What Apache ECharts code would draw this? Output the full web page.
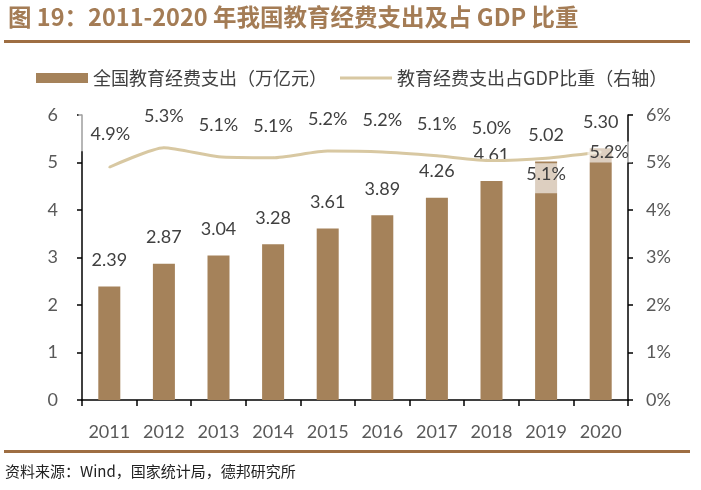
<!DOCTYPE html>
<html><head><meta charset="utf-8">
<script src="https://cdn.jsdelivr.net/npm/echarts@6/dist/echarts.min.js"></script>
<style>html,body{margin:0;padding:0;background:#fff}#c{width:701px;height:490px}</style>
</head><body><div id="c"></div>
<script>
const years = ['2011','2012','2013','2014','2015','2016','2017','2018','2019','2020'];
const spending = [2.39, 2.87, 3.04, 3.28, 3.61, 3.89, 4.26, 4.61, 5.02, 5.30];
const gdpShare = [4.90, 5.31, 5.12, 5.10, 5.24, 5.22, 5.14, 5.04, 5.09, 5.22];
const leftTicks = ['0', '1', '2', '3', '4', '5', '6'];
const rightTicks = ['0%', '1%', '2%', '3%', '4%', '5%', '6%'];

const FONT = 'Lato, "Noto Sans CJK SC", sans-serif';
const CJK = '"Noto Sans CJK SC", sans-serif';
const chart = echarts.init(document.getElementById('c'), null, {renderer: 'canvas'});

const fade = 'rgba(255,255,255,0.62)';
const lineData = gdpShare.map((v, i) => {
  const d = {value: v};
  if (i === 0) d.label = {distance: 15, offset: [-4, 0], backgroundColor: fade, padding: [13, 2, 8, 12]};
  if (i === 8) d.label = {position: 'bottom', distance: 4, backgroundColor: fade, padding: [2, 3, 10, 3]};
  if (i === 9) d.label = {position: 'inside', offset: [9, 0], backgroundColor: fade, padding: [3, 3, 0, 2]};
  return d;
});

chart.setOption({
  animation: false,
  textStyle: {fontFamily: FONT},
  graphic: [
    {type: 'text', left: 8, top: 5, style: {text: '图 19：2011-2020 年我国教育经费支出及占 GDP 比重', fill: '#A47C55', font: 'bold 23.5px ' + CJK}},
    {type: 'rect', shape: {x: 4, y: 40, width: 686, height: 3}, style: {fill: '#9E6E42'}},
    {type: 'rect', shape: {x: 4, y: 450, width: 686, height: 3}, style: {fill: '#9E6E42'}},
    {type: 'text', left: 5, top: 464, style: {text: '资料来源：Wind，国家统计局，德邦研究所', fill: '#222', font: '15px ' + CJK}}
  ],
  legend: {
    left: 31, top: 64, itemWidth: 52, itemHeight: 10, itemGap: 13,
    itemStyle: {borderWidth: 0},
    textStyle: {fontSize: 18, color: '#404040', fontFamily: CJK},
    data: [
      {name: '全国教育经费支出（万亿元）', icon: 'rect'},
      {name: '教育经费支出占GDP比重（右轴）', icon: 'path://M0,0 H52 V3 H0 Z'}
    ]
  },
  grid: {left: 82, right: 73, top: 115, bottom: 90},
  xAxis: {
    type: 'category', data: years, boundaryGap: true,
    axisLine: {lineStyle: {color: '#000', width: 1.5}},
    axisTick: {show: true, length: 6, inside: false, lineStyle: {color: '#000', width: 1.5}},
    axisLabel: {fontSize: 18, color: '#595959', margin: 23, fontFamily: FONT}
  },
  yAxis: [
    {type: 'value', min: 0, max: 6, interval: 1,
     axisLine: {show: true, lineStyle: {color: '#000', width: 1.5}},
     axisTick: {show: true, length: 5, lineStyle: {color: '#000', width: 1.5}},
     splitLine: {show: false},
     axisLabel: {fontSize: 18, color: '#595959', margin: 24, fontFamily: FONT,
       formatter: v => leftTicks[Math.round(v)]}},
    {type: 'value', min: 0, max: 6, interval: 1,
     axisLine: {show: true, lineStyle: {color: '#000', width: 1.5}},
     axisTick: {show: true, length: 5, lineStyle: {color: '#000', width: 1.5}},
     splitLine: {show: false},
     axisLabel: {fontSize: 18, color: '#595959', margin: 18, fontFamily: FONT,
       formatter: v => rightTicks[Math.round(v)]}}
  ],
  series: [
    {name: '全国教育经费支出（万亿元）', type: 'bar', data: spending, barWidth: 22,
     itemStyle: {color: '#A5825A'},
     label: {show: true, position: 'top', distance: 17, fontSize: 18, color: '#404040', fontFamily: FONT,
       formatter: p => p.value.toFixed(2)}},
    {name: '教育经费支出占GDP比重（右轴）', type: 'line', yAxisIndex: 1, data: lineData, z: 5,
     symbol: 'circle', symbolSize: 2, showSymbol: true, smooth: 0.2,
     lineStyle: {color: '#D8C8A2', width: 3},
     itemStyle: {color: '#D8C8A2'},
     label: {show: true, position: 'top', distance: 22, fontSize: 18, color: '#404040', fontFamily: FONT,
       formatter: p => p.value.toFixed(1) + '%'}}
  ]
});
</script></body></html>
